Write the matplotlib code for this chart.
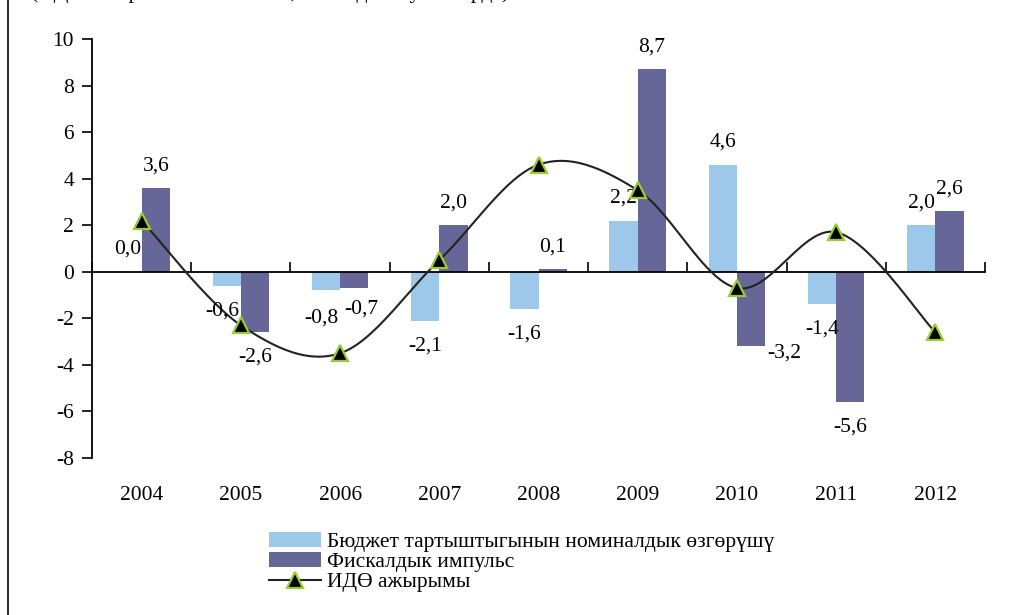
"""Бюджет тартыштыгы, фискалдык импульс жана ИДӨ ажырымы"""
import numpy as np
import matplotlib
matplotlib.use('Agg')
import matplotlib.pyplot as plt
from matplotlib.lines import Line2D
from matplotlib.patches import Patch

plt.rcParams['font.family'] = ['Liberation Serif', 'DejaVu Serif']
plt.rcParams['font.size'] = 15.5
plt.rcParams['axes.unicode_minus'] = False

years = ['2004', '2005', '2006', '2007', '2008', '2009', '2010', '2011', '2012']
deficit_change = [0.0, -0.6, -0.8, -2.1, -1.6, 2.2, 4.6, -1.4, 2.0]
fiscal_impulse = [3.6, -2.6, -0.7, 2.0, 0.1, 8.7, -3.2, -5.6, 2.6]
output_gap = [2.2, -2.3, -3.5, 0.5, 4.6, 3.5, -0.7, 1.7, -2.6]

legend_labels = ['Бюджет тартыштыгынын номиналдык өзгөрүшү',
                 'Фискалдык импульс',
                 'ИДӨ ажырымы']

LIGHT = '#9DC8EA'
DARK = '#666699'
MARKER_EDGE = '#99CC33'
FS = 15.5


def smooth_line(xs, ys, steps=30):
    """Excel сыяктуу жылмакай сызык (Catmull-Rom)"""
    xs = np.asarray(xs, float)
    ys = np.asarray(ys, float)
    px = np.concatenate([[xs[0]], xs, [xs[-1]]])
    py = np.concatenate([[ys[0]], ys, [ys[-1]]])
    out_x, out_y = [], []
    t = np.linspace(0, 1, steps)
    for i in range(1, len(px) - 2):
        p0, p1, p2, p3 = [np.array([px[j], py[j]]) for j in range(i - 1, i + 3)]
        c1 = p1 + (p2 - p0) / 6
        c2 = p2 - (p3 - p1) / 6
        pts = ((1 - t) ** 3)[:, None] * p1 + (3 * (1 - t) ** 2 * t)[:, None] * c1 \
            + (3 * (1 - t) * t ** 2)[:, None] * c2 + (t ** 3)[:, None] * p2
        out_x.extend(pts[:, 0])
        out_y.extend(pts[:, 1])
    return out_x, out_y


fig = plt.figure(figsize=(10.25, 6.15), dpi=100)
ax = fig.add_axes([0.0898, 0.2553, 0.8712, 0.6813])

x = np.arange(len(years))
w = 0.285

ax.bar(x - w / 2, deficit_change, w, color=LIGHT, zorder=2)
ax.bar(x + w / 2, fiscal_impulse, w, color=DARK, zorder=2)

sx, sy = smooth_line(x, output_gap)
ax.plot(sx, sy, color='#222222', linewidth=1.5, zorder=3)
ax.plot(x, output_gap, linestyle='none', marker='^', markersize=11,
        markerfacecolor='black', markeredgecolor=MARKER_EDGE,
        markeredgewidth=1.6, zorder=4)

# маалымат белгилери (кээ бирлери Excel'дегидей жылдырылган)
nudges = {(1, 6): (24, -5), (0, 2): (-3, -20), (1, 2): (5, -15),
          (0, 1): (-3, -18)}
for k, vals in enumerate([deficit_change, fiscal_impulse]):
    shift = -w / 2 if k == 0 else w / 2
    for i, v in enumerate(vals):
        dx, dy = nudges.get((k, i), (0, 16 if v >= 0 else -18))
        ax.annotate(f'{v:.1f}'.replace('.', ','), (x[i] + shift, v),
                    xytext=(dx, dy), textcoords='offset points',
                    ha='center', va='center', fontsize=FS)

ax.set_xlim(-0.5, len(years) - 0.5)
ax.set_ylim(-8, 10)
ax.set_yticks(range(-8, 11, 2))
ax.tick_params(axis='y', direction='out', length=7, width=1.2, pad=6,
               labelsize=FS)

ax.spines['top'].set_visible(False)
ax.spines['right'].set_visible(False)
ax.spines['left'].set_linewidth(1.3)
ax.spines['bottom'].set_position(('data', 0))
ax.spines['bottom'].set_linewidth(1.3)
ax.set_xticks(np.arange(len(years) + 1) - 0.5)
ax.set_xticklabels([])
ax.tick_params(axis='x', direction='in', length=7, width=1.2)

for i, yr in enumerate(years):
    ax.annotate(yr, (x[i], -8), xytext=(0, -27), textcoords='offset points',
                ha='center', va='center', fontsize=FS)

handles = [Patch(facecolor=LIGHT, edgecolor='none'),
           Patch(facecolor=DARK, edgecolor='none'),
           Line2D([0], [0], color='#222222', linewidth=1.5, marker='^',
                  markersize=11, markerfacecolor='black',
                  markeredgecolor=MARKER_EDGE, markeredgewidth=1.6)]
fig.legend(handles, legend_labels, loc='upper left',
           bbox_to_anchor=(0.262, 0.135), frameon=False, fontsize=FS,
           handlelength=2.45, handleheight=0.7, handletextpad=0.25,
           labelspacing=0.0, borderaxespad=0, borderpad=0)

# кесилген жогорку жазуу жана алкак
fig.text(0.03, 1.004, '(ИДӨгө карата пайыз менен, пайыздык пункттарда)',
         ha='left', va='baseline', fontsize=FS)
fig.add_artist(Line2D([0.008, 0.008], [0, 1], color='#333333',
                      linewidth=1.5, transform=fig.transFigure))

plt.savefig('out.png', dpi=100)
